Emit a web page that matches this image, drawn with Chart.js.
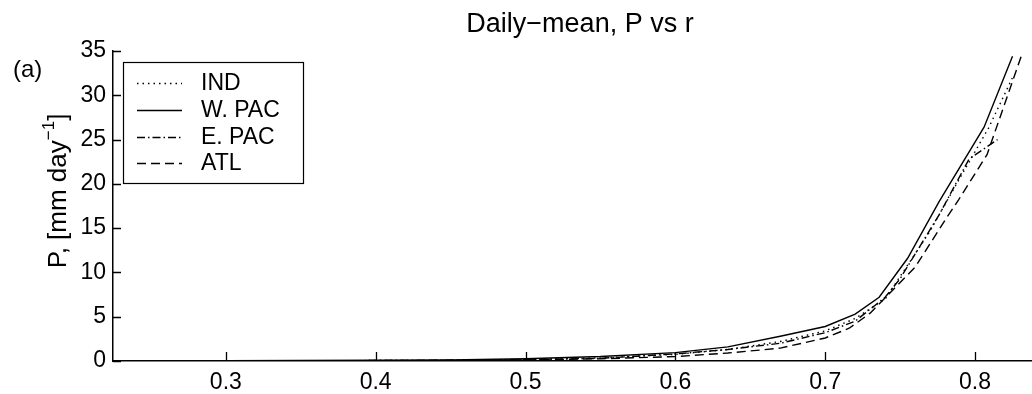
<!DOCTYPE html>
<html>
<head>
<meta charset="utf-8">
<script src="https://cdn.jsdelivr.net/npm/chart.js@4.4.0/dist/chart.umd.min.js"></script>
<style>
  html, body { margin: 0; padding: 0; background: #fff; }
  canvas { display: block; }
</style>
</head>
<body>
<canvas id="chart" width="1032" height="394"></canvas>
<script>
// values (r = relative humidity, P in mm/day)
const seriesNames = ["IND", "W. PAC", "E. PAC", "ATL"];

const rInd  = [0.23, 0.30, 0.40, 0.45, 0.50, 0.55, 0.60, 0.635, 0.67, 0.70, 0.72, 0.74, 0.769, 0.788, 0.809, 0.825];
const pInd  = [0.01, 0.02, 0.05, 0.09, 0.18, 0.35, 0.75, 1.3, 2.2, 3.4, 4.8, 7.0, 14.4, 20.1, 26.3, 32.0];

const rWpac = [0.23, 0.30, 0.35, 0.40, 0.45, 0.50, 0.55, 0.60, 0.635, 0.67, 0.70, 0.72, 0.736, 0.755, 0.776, 0.806, 0.825];
const pWpac = [0.02, 0.03, 0.05, 0.08, 0.13, 0.25, 0.5, 0.95, 1.6, 2.8, 3.9, 5.3, 7.2, 11.6, 18.0, 26.4, 34.4];

const rEpac = [0.23, 0.30, 0.40, 0.45, 0.50, 0.55, 0.60, 0.635, 0.67, 0.70, 0.72, 0.74, 0.75, 0.776, 0.796, 0.815];
const pEpac = [0.01, 0.02, 0.05, 0.08, 0.15, 0.3, 0.8, 1.3, 2.0, 3.2, 4.5, 7.2, 9.3, 16.5, 22.8, 25.0];

const rAtl  = [0.23, 0.30, 0.40, 0.45, 0.50, 0.55, 0.60, 0.635, 0.67, 0.70, 0.716, 0.73, 0.745, 0.76, 0.78, 0.789, 0.808, 0.831];
const pAtl  = [0.0, 0.01, 0.03, 0.06, 0.12, 0.25, 0.5, 0.9, 1.45, 2.6, 3.7, 5.4, 8.0, 10.6, 15.9, 18.2, 23.3, 34.5];

const xTicks = [0.3, 0.4, 0.5, 0.6, 0.7, 0.8];
const yTicks = [0, 5, 10, 15, 20, 25, 30, 35];

const FONT = "'Liberation Sans', Arial, Helvetica, sans-serif";

const pts = (rs, ps) => rs.map((r, i) => ({ x: r, y: ps[i] }));

const line = (label, data, dash) => ({
  label,
  data,
  borderColor: "#000",
  borderWidth: 1.4,
  borderDash: dash,
  pointRadius: 0,
  tension: 0,
  fill: false,
});

// title, panel letter, y label, inward ticks and the boxed legend
const decor = {
  id: "decor",
  afterDraw(chart) {
    const ctx = chart.ctx;
    const xs = chart.scales.x, ys = chart.scales.y;
    const area = chart.chartArea;
    ctx.save();
    ctx.fillStyle = "#000";
    ctx.strokeStyle = "#000";

    // inward tick marks
    ctx.lineWidth = 1.3;
    ctx.setLineDash([]);
    ctx.beginPath();
    xTicks.forEach(v => {
      const px = Math.round(xs.getPixelForValue(v)) + 0.5;
      ctx.moveTo(px, area.bottom);
      ctx.lineTo(px, area.bottom - 9);
    });
    yTicks.forEach(v => {
      const py = Math.round(ys.getPixelForValue(v)) + 0.5;
      ctx.moveTo(area.left, py);
      ctx.lineTo(area.left + 8, py);
    });
    ctx.stroke();

    // title
    ctx.font = "27px " + FONT;
    ctx.textAlign = "center";
    ctx.textBaseline = "alphabetic";
    ctx.fillText("Daily\u2212mean, P vs r", 580, 32);

    // panel letter
    ctx.font = "24px " + FONT;
    ctx.textAlign = "left";
    ctx.textBaseline = "middle";
    ctx.fillText("(a)", 13, 70);

    // y axis label with superscript
    ctx.save();
    ctx.translate(57, 191);
    ctx.rotate(-Math.PI / 2);
    const big = "26px " + FONT, small = "17px " + FONT;
    const a = "P, [mm day", sup = "\u22121", b = "]";
    ctx.font = big; const wa = ctx.measureText(a).width, wb = ctx.measureText(b).width;
    ctx.font = small; const ws = ctx.measureText(sup).width;
    let x0 = -(wa + ws + wb) / 2;
    ctx.textAlign = "left";
    ctx.textBaseline = "alphabetic";
    ctx.font = big; ctx.fillText(a, x0, 9);
    ctx.font = small; ctx.fillText(sup, x0 + wa, -3);
    ctx.font = big; ctx.fillText(b, x0 + wa + ws, 9);
    ctx.restore();

    // legend box
    const bx = 123, by = 62, bw = 180, bh = 121;
    ctx.fillStyle = "#fff";
    ctx.fillRect(bx, by, bw, bh);
    ctx.lineWidth = 1.2;
    ctx.strokeRect(bx + 0.5, by + 0.5, bw, bh);
    ctx.fillStyle = "#000";
    ctx.font = "23px " + FONT;
    ctx.textBaseline = "middle";
    const rows = [83, 110, 137, 163];
    chart.data.datasets.forEach((ds, i) => {
      const y = rows[i] + 0.5;
      ctx.lineWidth = ds.borderWidth;
      ctx.setLineDash(ds.borderDash || []);
      ctx.beginPath();
      ctx.moveTo(137, y);
      ctx.lineTo(182, y);
      ctx.stroke();
      ctx.setLineDash([]);
      ctx.fillText(ds.label, 201, rows[i] + 1);
    });
    ctx.restore();
  }
};

new Chart(document.getElementById("chart"), {
  type: "line",
  data: {
    datasets: [
      line(seriesNames[0], pts(rInd, pInd), [1.5, 4]),
      line(seriesNames[1], pts(rWpac, pWpac), []),
      line(seriesNames[2], pts(rEpac, pEpac), [8, 3, 1.5, 3]),
      line(seriesNames[3], pts(rAtl, pAtl), [9, 5]),
    ],
  },
  options: {
    responsive: false,
    animation: false,
    devicePixelRatio: 1,
    layout: { padding: { top: 51, right: 0, left: 0, bottom: 0 } },
    plugins: {
      legend: { display: false },
      title: { display: false },
      tooltip: { enabled: false },
    },
    scales: {
      x: {
        type: "linear",
        min: 0.2247,
        max: 0.838,
        afterBuildTicks: s => { s.ticks = xTicks.map(v => ({ value: v })); },
        afterFit: s => { s.height = 33; },
        grid: { display: false, drawTicks: false },
        border: { display: true, color: "#000", width: 1.5 },
        ticks: {
          color: "#000",
          padding: 8,
          maxRotation: 0,
          font: { family: FONT, size: 23 },
          callback: v => v.toFixed(1),
        },
      },
      y: {
        min: 0,
        max: 35,
        afterBuildTicks: s => { s.ticks = yTicks.map(v => ({ value: v })); },
        afterFit: s => { s.width = 113; },
        grid: { display: false, drawTicks: false },
        border: { display: true, color: "#000", width: 1.5 },
        ticks: {
          color: "#000",
          padding: 7,
          font: { family: FONT, size: 23 },
        },
      },
    },
  },
  plugins: [decor],
});
</script>
</body>
</html>
